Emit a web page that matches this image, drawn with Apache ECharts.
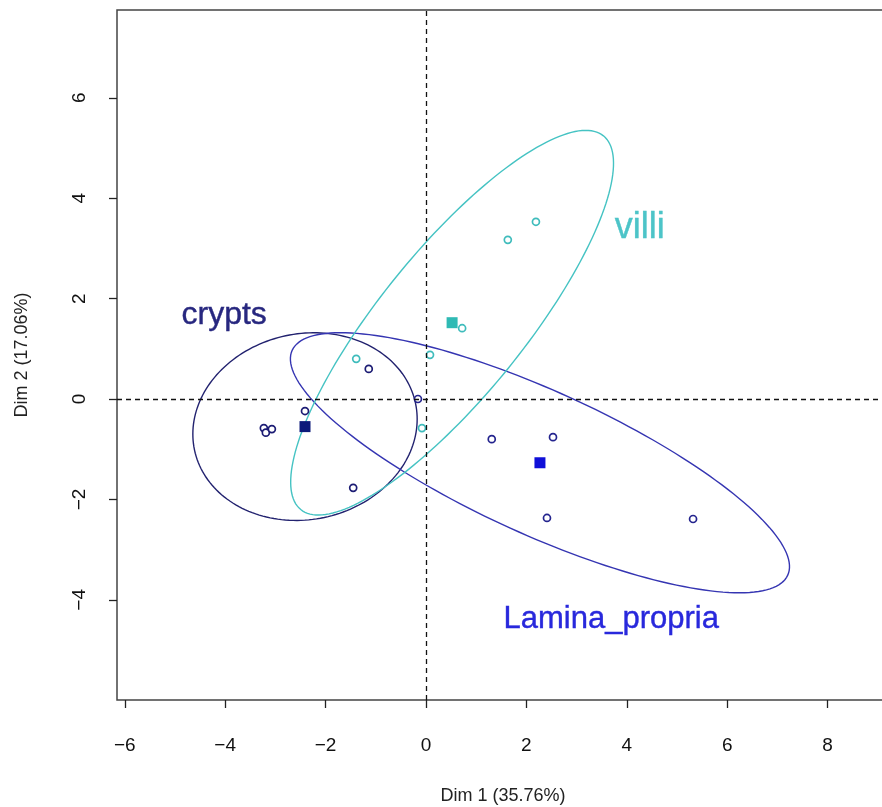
<!DOCTYPE html>
<html>
<head>
<meta charset="utf-8">
<style>
  html, body { margin: 0; padding: 0; background: #fff; }
  #chart { width: 882px; height: 807px; }
</style>
<script src="https://cdn.jsdelivr.net/npm/echarts@6/dist/echarts.min.js"></script>
</head>
<body>
<div id="chart"></div>
<script>
// Individual coordinates on the first two dimensions, per tissue group
const groups = ['crypts', 'Lamina_propria', 'villi'];

const cryptsX = [-3.23, -3.19, -3.07, -2.41, -1.14, -1.45];
const cryptsY = [-0.58, -0.67, -0.60, -0.24, 0.60, -1.77];

const laminaX = [1.31, 2.53, 2.41, 5.32, -0.16];
const laminaY = [-0.80, -0.76, -2.37, -2.39, 0.00];

const villiX = [2.19, 1.63, 0.72, 0.08, -0.08, -1.39];
const villiY = [3.53, 3.17, 1.41, 0.88, -0.58, 0.80];

// Group barycentres (filled squares)
const groupMeanX = [-2.41, 2.27, 0.52];
const groupMeanY = [-0.55, -1.27, 1.52];

// Confidence ellipses: semi-major, semi-minor, rotation (degrees)
const ellipseMajor = [2.25, 5.42, 4.79];
const ellipseMinor = [1.85, 1.43, 1.44];
const ellipseAngle = [12, -24.4, 51];

// Group name anchors
const labelX = [-4.02, 3.69, 4.26];
const labelY = [1.67, -4.40, 3.41];

// Axis ticks
const xTicks = [-6, -4, -2, 0, 2, 4, 6, 8];
const yTicks = [-4, -2, 0, 2, 4, 6];

const pointColor = ['#1c1c74', '#24248e', '#3fbcbc'];
const meanColor = ['#0c1a7a', '#0f0fd8', '#2fbab4'];
const ellipseColor = ['#22226f', '#3535b2', '#45c3c3'];
const textColor = ['#27277f', '#2828dc', '#4cc4c8'];
const textSize = [32, 31, 36];

const FONT = "'Liberation Sans', Arial, Helvetica, sans-serif";

const zip = (xs, ys) => xs.map((x, i) => [x, ys[i]]);
const pointSets = [zip(cryptsX, cryptsY), zip(laminaX, laminaY), zip(villiX, villiY)];

function renderEllipse(params, api) {
  const i = params.dataIndex;
  const cx = api.value(0), cy = api.value(1);
  const a = api.value(2), b = api.value(3);
  const th = api.value(4) * Math.PI / 180;
  const pts = [];
  const n = 180;
  for (let k = 0; k <= n; k++) {
    const t = 2 * Math.PI * k / n;
    const u = a * Math.cos(t), v = b * Math.sin(t);
    pts.push(api.coord([
      cx + u * Math.cos(th) - v * Math.sin(th),
      cy + u * Math.sin(th) + v * Math.cos(th)
    ]));
  }
  return {
    type: 'polyline',
    shape: { points: pts },
    style: { fill: null, stroke: ellipseColor[i], lineWidth: 1.4 }
  };
}

const series = [];

series.push({
  type: 'custom',
  name: 'ellipses',
  renderItem: renderEllipse,
  encode: { x: 0, y: 1 },
  data: groups.map((g, i) => [groupMeanX[i], groupMeanY[i], ellipseMajor[i], ellipseMinor[i], ellipseAngle[i]]),
  silent: true,
  clip: true,
  z: 2,
  markLine: {
    silent: true,
    symbol: 'none',
    label: { show: false },
    lineStyle: { color: '#111', width: 1.3, type: [5, 4] },
    data: [{ xAxis: 0 }, { yAxis: 0 }]
  }
});

groups.forEach((g, i) => {
  series.push({
    type: 'scatter',
    name: g,
    data: pointSets[i],
    symbol: 'circle',
    symbolSize: 7,
    itemStyle: { color: '#fff', borderColor: pointColor[i], borderWidth: 1.7, opacity: 1 },
    z: 3
  });
});

series.push({
  type: 'scatter',
  name: 'means',
  data: zip(groupMeanX, groupMeanY).map((p, i) => ({ value: p, itemStyle: { color: meanColor[i], opacity: 1 } })),
  symbol: 'rect',
  symbolSize: 11,
  z: 4
});

series.push({
  type: 'scatter',
  name: 'group labels',
  data: zip(labelX, labelY).map((p, i) => ({
    value: p,
    label: {
      show: true,
      position: 'inside',
      formatter: groups[i],
      color: textColor[i],
      fontSize: textSize[i],
      fontFamily: FONT,
      textBorderColor: textColor[i],
      textBorderWidth: 0.4
    }
  })),
  symbolSize: 1,
  itemStyle: { color: 'rgba(0,0,0,0)', opacity: 1 },
  z: 5
});

const chart = echarts.init(document.getElementById('chart'), null, { renderer: 'canvas' });
chart.setOption({
  animation: false,
  backgroundColor: '#fff',
  grid: {
    left: 117, top: 10, width: 772, height: 690,
    outerBoundsMode: 'none',
    containLabel: false,
    show: true, borderColor: '#444', borderWidth: 1.5, backgroundColor: 'transparent'
  },
  xAxis: {
    type: 'value',
    min: -6.155, max: 9.223,
    name: 'Dim 1 (35.76%)',
    nameLocation: 'middle',
    nameGap: 87,
    nameTextStyle: { fontSize: 18, color: '#222', fontFamily: FONT },
    axisLine: { show: false, onZero: false },
    splitLine: { show: false },
    axisTick: { show: true, inside: false, length: 8, customValues: xTicks, lineStyle: { color: '#222', width: 1.3 } },
    axisLabel: { customValues: xTicks, margin: 36, fontSize: 19, color: '#111', fontFamily: FONT,
      formatter: v => (v < 0 ? '\u2212' + Math.abs(v) : String(v)) }
  },
  yAxis: {
    type: 'value',
    min: -5.996, max: 7.749,
    name: 'Dim 2 (17.06%)',
    nameLocation: 'middle',
    nameGap: 86,
    nameTextStyle: { fontSize: 18, color: '#222', fontFamily: FONT },
    axisLine: { show: false, onZero: false },
    splitLine: { show: false },
    axisTick: { show: true, inside: false, length: 8, customValues: yTicks, lineStyle: { color: '#222', width: 1.3 } },
    axisLabel: { customValues: yTicks, rotate: 90, margin: 28, fontSize: 19, color: '#111', fontFamily: FONT,
      formatter: v => (v < 0 ? '\u2212' + Math.abs(v) : String(v)) }
  },
  series: series
});
</script>
</body>
</html>
